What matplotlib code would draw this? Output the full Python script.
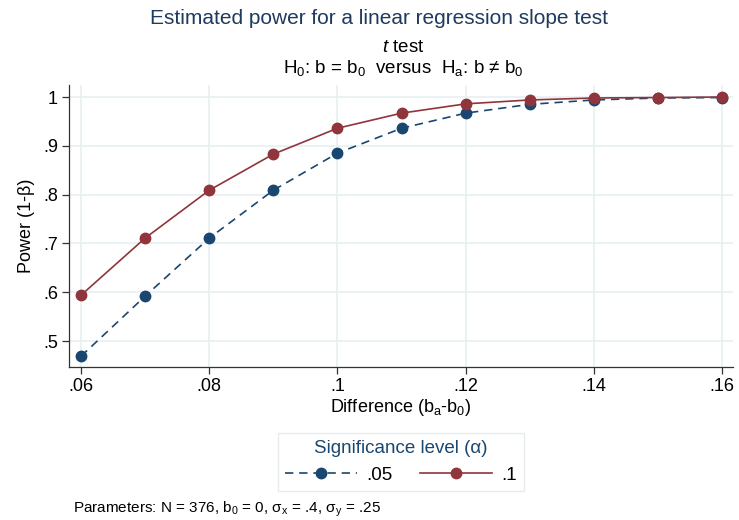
import matplotlib
matplotlib.use('Agg')
import matplotlib.pyplot as plt

plt.rcParams['font.family'] = ['Liberation Sans', 'DejaVu Sans']
plt.rcParams['mathtext.fontset'] = 'custom'
plt.rcParams['mathtext.rm'] = 'Liberation Sans'
plt.rcParams['mathtext.it'] = 'Liberation Sans:italic'

# dados
diferenca = [0.06, 0.07, 0.08, 0.09, 0.10, 0.11, 0.12, 0.13, 0.14, 0.15, 0.16]
poder_05 = [0.469, 0.592, 0.711, 0.809, 0.885, 0.936, 0.967, 0.985, 0.994, 0.998, 0.999]
poder_10 = [0.594, 0.711, 0.809, 0.883, 0.936, 0.967, 0.986, 0.994, 0.998, 0.999, 1.0]
xticks = [0.06, 0.08, 0.10, 0.12, 0.14, 0.16]
xlabels = ['.06', '.08', '.1', '.12', '.14', '.16']
yticks = [0.5, 0.6, 0.7, 0.8, 0.9, 1.0]
ylabels = ['.5', '.6', '.7', '.8', '.9', '1']

azul = '#1a476f'
vermelho = '#90353b'

fig = plt.figure(figsize=(7.39, 5.2), dpi=100)
ax = fig.add_axes([0.0934, 0.294, 0.8986, 0.5425])

ax.plot(diferenca, poder_05, color=azul, linestyle=(0, (5, 3.5)), linewidth=1.2,
        marker='o', markersize=7.5, label='.05')
ax.plot(diferenca, poder_10, color=vermelho, linewidth=1.2,
        marker='o', markersize=7.5, label='.1')

ax.set_xlim(0.05813, 0.16172)
ax.set_ylim(0.4467, 1.0246)
ax.set_xticks(xticks)
ax.set_xticklabels(xlabels)
ax.set_yticks(yticks)
ax.set_yticklabels(ylabels)
ax.tick_params(labelsize=13, length=5, width=0.9, color='#333333', pad=3)
ax.grid(True, color='#e8f0f2', linewidth=1.2)
ax.set_axisbelow(True)
for lado in ['top', 'right']:
    ax.spines[lado].set_visible(False)
for lado in ['left', 'bottom']:
    ax.spines[lado].set_color('#333333')
    ax.spines[lado].set_linewidth(0.9)

ax.set_xlabel('Difference (b$_\\mathrm{a}$-b$_0$)', fontsize=13, labelpad=1)
ax.set_ylabel('Power (1-β)', fontsize=13, labelpad=6)

fig.text(379 / 739, 0.965, 'Estimated power for a linear regression slope test',
         ha='center', va='center', fontsize=15, color='#1e3a5f')
fig.text(403 / 739, 1 - 48 / 520, '$\\it{t}$ test', ha='center', va='center', fontsize=13.5)
fig.text(403 / 739, 1 - 68 / 520, 'H$_0$: b = b$_0$  versus  H$_\\mathrm{a}$: b ≠ b$_0$',
         ha='center', va='center', fontsize=13.5)

leg = fig.legend(loc='center', bbox_to_anchor=(401 / 739, 1 - 462 / 520), ncol=2,
                 title='Significance level (α)', fontsize=13.5, title_fontsize=13.5,
                 numpoints=1, handlelength=3.8, handletextpad=0.5, columnspacing=1.5,
                 frameon=True, fancybox=False, edgecolor='#e0e6e8', borderpad=0.4)
leg.get_title().set_color(azul)
leg.get_frame().set_linewidth(1.0)

fig.text(73 / 739, 1 - 509 / 520,
         'Parameters: N = 376, b$_0$ = 0, σ$_\\mathrm{x}$ = .4, σ$_\\mathrm{y}$ = .25',
         ha='left', va='center', fontsize=11)

fig.savefig('out.png', dpi=100)
